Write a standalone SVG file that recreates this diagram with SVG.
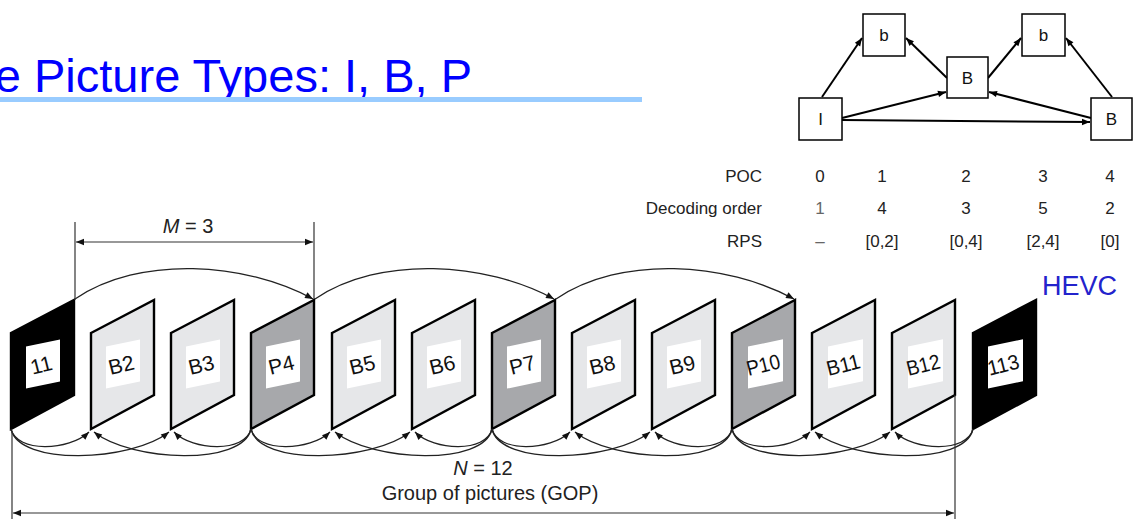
<svg xmlns="http://www.w3.org/2000/svg" width="1133" height="519" viewBox="0 0 1133 519">
<style>
text{font-family:"Liberation Sans",Arial,sans-serif;fill:#222}
.fr{stroke:#000;stroke-width:2.4;stroke-linejoin:miter}
.fI{fill:#000}.fB{fill:#e6e7e9}.fP{fill:#a7a8ab}
.lb{fill:#fff}
.lt{font-size:21px;text-anchor:middle;fill:#111}
.arc{fill:none;stroke:#222;stroke-width:1.3;marker-end:url(#ah)}
.dim{fill:none;stroke:#333;stroke-width:1.2}
.dimA{marker-start:url(#ah2);marker-end:url(#ah2)}
.gb{fill:#fff;stroke:#000;stroke-width:1.5}
.ga{fill:none;stroke:#000;stroke-width:2;marker-end:url(#ah3)}
.gt{font-size:17px;text-anchor:middle;fill:#111}
.tb{font-size:17px;fill:#222}
</style>
<defs>
<marker id="ah" viewBox="0 0 10 10" refX="10" refY="5" markerWidth="9" markerHeight="8" markerUnits="userSpaceOnUse" orient="auto"><path d="M0,1 L10,5 L0,9 z" fill="#111"/></marker>
<marker id="ah2" viewBox="0 0 10 10" refX="10" refY="5" markerWidth="10" markerHeight="8" markerUnits="userSpaceOnUse" orient="auto-start-reverse"><path d="M0,1 L10,5 L0,9 z" fill="#111"/></marker>
<marker id="ah3" viewBox="0 0 10 10" refX="10" refY="5" markerWidth="9" markerHeight="8" markerUnits="userSpaceOnUse" orient="auto"><path d="M0,1 L10,5 L0,9 z" fill="#000"/></marker>
</defs>
<rect width="1133" height="519" fill="#fff"/>

<g id="title">
<text x="472" y="92" font-size="47" text-anchor="end" style="fill:#0000ff">e Picture Types: I, B, P</text>
<rect x="0" y="97" width="642" height="5" fill="#99ccff"/>
</g>
<text id="hevc" x="1042" y="295" font-size="27" style="fill:#2323cc">HEVC</text>

<g id="graph-connectors">
<line class="ga" x1="822" y1="97" x2="862" y2="38"/>
<line class="ga" x1="947" y1="78" x2="906" y2="38"/>
<line class="ga" x1="988" y1="78" x2="1021" y2="38"/>
<line class="ga" x1="1112" y1="97" x2="1066" y2="38"/>
<line class="ga" x1="842" y1="118" x2="946" y2="92"/>
<line class="ga" x1="842" y1="120" x2="1090" y2="122"/>
<line class="ga" x1="1091" y1="118" x2="989" y2="92"/>
</g>
<g id="g-I"><rect class="gb" x="799" y="98" width="43" height="42"/><text class="gt" x="820.5" y="125">I</text></g>
<g id="g-b1"><rect class="gb" x="863" y="14" width="42" height="42"/><text class="gt" x="884" y="41">b</text></g>
<g id="g-Bmid"><rect class="gb" x="947" y="57" width="41" height="41"/><text class="gt" x="967.5" y="84">B</text></g>
<g id="g-b2"><rect class="gb" x="1022" y="14" width="43" height="42"/><text class="gt" x="1043.5" y="41">b</text></g>
<g id="g-Bright"><rect class="gb" x="1091" y="98" width="41" height="42"/><text class="gt" x="1111.5" y="125">B</text></g>

<g id="table">
<text class="tb" x="762" y="182" text-anchor="end">POC</text>
<text class="tb" x="762" y="214" text-anchor="end">Decoding order</text>
<text class="tb" x="762" y="247" text-anchor="end">RPS</text>
<text class="tb" x="820" y="182" text-anchor="middle">0</text>
<text class="tb" x="882" y="182" text-anchor="middle">1</text>
<text class="tb" x="966" y="182" text-anchor="middle">2</text>
<text class="tb" x="1043" y="182" text-anchor="middle">3</text>
<text class="tb" x="1110" y="182" text-anchor="middle">4</text>
<text class="tb" x="820" y="214" text-anchor="middle" style="fill:#666">1</text>
<text class="tb" x="882" y="214" text-anchor="middle">4</text>
<text class="tb" x="966" y="214" text-anchor="middle">3</text>
<text class="tb" x="1043" y="214" text-anchor="middle">5</text>
<text class="tb" x="1110" y="214" text-anchor="middle">2</text>
<text class="tb" x="820" y="247" text-anchor="middle" style="fill:#666">–</text>
<text class="tb" x="882" y="247" text-anchor="middle">[0,2]</text>
<text class="tb" x="966" y="247" text-anchor="middle">[0,4]</text>
<text class="tb" x="1043" y="247" text-anchor="middle">[2,4]</text>
<text class="tb" x="1110" y="247" text-anchor="middle">[0]</text>
</g>

<g id="f1"><polygon class="fr fI" points="11,333 74,300 74,395 11,429"/><rect class="lb" x="-17" y="-21" width="34" height="42" transform="translate(43,364) skewY(-12)"/><text class="lt" transform="translate(43,372) rotate(-14)">11</text></g>
<g id="f2"><polygon class="fr fB" points="91,333 154,300 154,395 91,429"/><rect class="lb" x="-17" y="-21" width="34" height="42" transform="translate(123,364) skewY(-12)"/><text class="lt" transform="translate(123,372) rotate(-14)">B2</text></g>
<g id="f3"><polygon class="fr fB" points="171,333 234,300 234,395 171,429"/><rect class="lb" x="-17" y="-21" width="34" height="42" transform="translate(203,364) skewY(-12)"/><text class="lt" transform="translate(203,372) rotate(-14)">B3</text></g>
<g id="f4"><polygon class="fr fP" points="251,333 314,300 314,395 251,429"/><rect class="lb" x="-17" y="-21" width="34" height="42" transform="translate(283,364) skewY(-12)"/><text class="lt" transform="translate(283,372) rotate(-14)">P4</text></g>
<g id="f5"><polygon class="fr fB" points="332,333 395,300 395,395 332,429"/><rect class="lb" x="-17" y="-21" width="34" height="42" transform="translate(364,364) skewY(-12)"/><text class="lt" transform="translate(364,372) rotate(-14)">B5</text></g>
<g id="f6"><polygon class="fr fB" points="412,333 475,300 475,395 412,429"/><rect class="lb" x="-17" y="-21" width="34" height="42" transform="translate(444,364) skewY(-12)"/><text class="lt" transform="translate(444,372) rotate(-14)">B6</text></g>
<g id="f7"><polygon class="fr fP" points="492,333 555,300 555,395 492,429"/><rect class="lb" x="-17" y="-21" width="34" height="42" transform="translate(524,364) skewY(-12)"/><text class="lt" transform="translate(524,372) rotate(-14)">P7</text></g>
<g id="f8"><polygon class="fr fB" points="572,333 635,300 635,395 572,429"/><rect class="lb" x="-17" y="-21" width="34" height="42" transform="translate(604,364) skewY(-12)"/><text class="lt" transform="translate(604,372) rotate(-14)">B8</text></g>
<g id="f9"><polygon class="fr fB" points="652,333 715,300 715,395 652,429"/><rect class="lb" x="-17" y="-21" width="34" height="42" transform="translate(684,364) skewY(-12)"/><text class="lt" transform="translate(684,372) rotate(-14)">B9</text></g>
<g id="f10"><polygon class="fr fP" points="732,333 795,300 795,395 732,429"/><rect class="lb" x="-17" y="-21" width="35" height="42" transform="translate(765,364) skewY(-12)"/><text class="lt" transform="translate(765,372) rotate(-14)" textLength="34" lengthAdjust="spacingAndGlyphs">P10</text></g>
<g id="f11"><polygon class="fr fB" points="812,333 875,300 875,395 812,429"/><rect class="lb" x="-17" y="-21" width="35" height="42" transform="translate(845,364) skewY(-12)"/><text class="lt" transform="translate(845,372) rotate(-14)" textLength="34" lengthAdjust="spacingAndGlyphs">B11</text></g>
<g id="f12"><polygon class="fr fB" points="892,333 955,300 955,395 892,429"/><rect class="lb" x="-17" y="-21" width="35" height="42" transform="translate(925,364) skewY(-12)"/><text class="lt" transform="translate(925,372) rotate(-14)" textLength="34" lengthAdjust="spacingAndGlyphs">B12</text></g>
<g id="f13"><polygon class="fr fI" points="973,333 1036,300 1036,395 973,429"/><rect class="lb" x="-17" y="-21" width="35" height="42" transform="translate(1005,364) skewY(-12)"/><text class="lt" transform="translate(1005,372) rotate(-14)" textLength="32" lengthAdjust="spacingAndGlyphs">113</text></g>

<g id="connectors">
<path class="arc" d="M75,299 C140,255 245,262 313,299"/>
<path class="arc" d="M315,299 C380,255 486,262 554,299"/>
<path class="arc" d="M556,299 C621,255 726,262 794,299"/>

<path class="arc" d="M11,429 C17,453 69,451 89,432"/>
<path class="arc" d="M11,429 C19,466 131,462 169,432"/>
<path class="arc" d="M251,429 C245,453 193,451 174,432"/>
<path class="arc" d="M251,429 C243,466 132,462 94,432"/>

<path class="arc" d="M251,429 C257,453 310,451 330,432"/>
<path class="arc" d="M251,429 C259,466 372,462 410,432"/>
<path class="arc" d="M492,429 C486,453 434,451 415,432"/>
<path class="arc" d="M492,429 C484,466 373,462 335,432"/>

<path class="arc" d="M492,429 C498,453 550,451 570,432"/>
<path class="arc" d="M492,429 C500,466 612,462 650,432"/>
<path class="arc" d="M732,429 C726,453 674,451 655,432"/>
<path class="arc" d="M732,429 C724,466 613,462 575,432"/>

<path class="arc" d="M732,429 C738,453 790,451 810,432"/>
<path class="arc" d="M732,429 C740,466 852,462 890,432"/>
<path class="arc" d="M973,429 C967,453 914,451 895,432"/>
<path class="arc" d="M973,429 C965,466 853,462 815,432"/>
</g>

<g id="dim-M">
<line class="dim" x1="75" y1="222" x2="75" y2="300"/>
<line class="dim" x1="314" y1="222" x2="314" y2="299"/>
<line class="dim dimA" x1="76" y1="242" x2="313" y2="242"/>
<text x="188" y="233" font-size="20" text-anchor="middle"><tspan font-style="italic">M</tspan> = 3</text>
</g>
<g id="dim-N">
<line class="dim" x1="12" y1="431" x2="12" y2="519"/>
<line class="dim" x1="955" y1="395" x2="955" y2="519"/>
<line class="dim dimA" x1="13" y1="513" x2="954" y2="513"/>
<text x="483" y="475" font-size="20" text-anchor="middle"><tspan font-style="italic">N</tspan> = 12</text>
<text x="490" y="500" font-size="20" text-anchor="middle">Group of pictures (GOP)</text>
</g>
</svg>
